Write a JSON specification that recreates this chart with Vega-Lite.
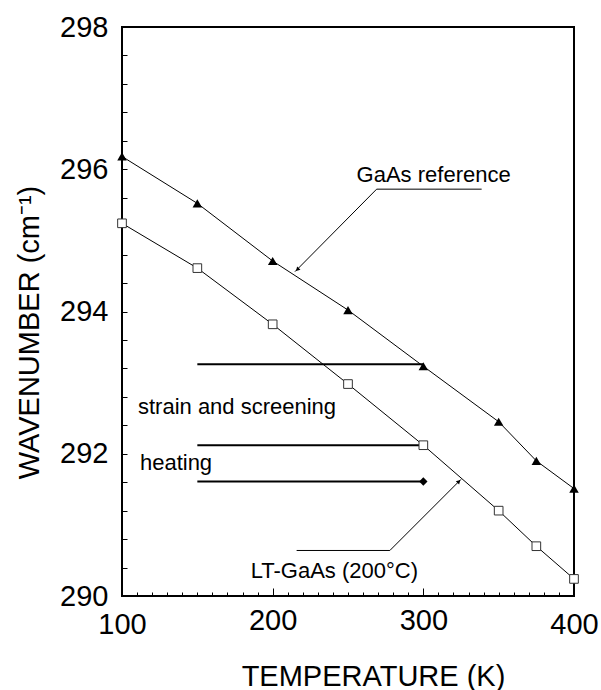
{
  "$schema": "https://vega.github.io/schema/vega-lite/v6.json",
  "autosize": {"type": "none"},
  "padding": {"left": 122, "top": 27, "right": 27, "bottom": 94},
  "width": 452,
  "height": 569,
  "background": "white",
  "config": {
    "view": {"stroke": "black", "strokeWidth": 2},
    "font": "Liberation Sans",
    "text": {"font": "Liberation Sans"}
  },
  "datasets": {
    "series": [
      {"series": "GaAs reference", "T": 100, "w": 296.18},
      {"series": "GaAs reference", "T": 150, "w": 295.52},
      {"series": "GaAs reference", "T": 200, "w": 294.71},
      {"series": "GaAs reference", "T": 250, "w": 294.02},
      {"series": "GaAs reference", "T": 300, "w": 293.23},
      {"series": "GaAs reference", "T": 350, "w": 292.45},
      {"series": "GaAs reference", "T": 375, "w": 291.90},
      {"series": "GaAs reference", "T": 400, "w": 291.51},
      {"series": "LT-GaAs", "T": 100, "w": 295.24},
      {"series": "LT-GaAs", "T": 150, "w": 294.61},
      {"series": "LT-GaAs", "T": 200, "w": 293.82},
      {"series": "LT-GaAs", "T": 250, "w": 292.98},
      {"series": "LT-GaAs", "T": 300, "w": 292.12},
      {"series": "LT-GaAs", "T": 350, "w": 291.20},
      {"series": "LT-GaAs", "T": 375, "w": 290.70},
      {"series": "LT-GaAs", "T": 400, "w": 290.24}
    ],
    "hlines": [
      {"T1": 150, "T2": 300, "w": 293.26},
      {"T1": 150, "T2": 300, "w": 292.12},
      {"T1": 150, "T2": 300, "w": 291.61}
    ],
    "diamond": [{"T": 300, "w": 291.61}],
    "leaders": [
      {"g": "gaas", "o": 1, "T": 338.7, "w": 295.72},
      {"g": "gaas", "o": 2, "T": 269.0, "w": 295.72},
      {"g": "gaas", "o": 3, "T": 214.8, "w": 294.56},
      {"g": "lt", "o": 1, "T": 215.9, "w": 290.64},
      {"g": "lt", "o": 2, "T": 277.8, "w": 290.64},
      {"g": "lt", "o": 3, "T": 325.0, "w": 291.64}
    ],
    "heads": [
      {"g": "gaas", "T": 216.4, "w": 294.59},
      {"g": "lt", "T": 323.6, "w": 291.61}
    ],
    "labels": [
      {"label": "GaAs reference", "T": 255.7, "w": 295.82},
      {"label": "strain and screening", "T": 110.6, "w": 292.557},
      {"label": "heating", "T": 111.9, "w": 291.77},
      {"label": "LT-GaAs (200°C)", "T": 185.4, "w": 290.26}
    ]
  },
  "encoding": {
    "x": {
      "field": "T", "type": "quantitative",
      "scale": {"domain": [100, 400], "nice": false, "zero": false},
      "axis": {
        "title": "TEMPERATURE (K)",
        "values": [100,110,120,130,140,150,160,170,180,190,200,210,220,230,240,250,260,270,280,290,300,310,320,330,340,350,360,370,380,390,400],
        "labelExpr": "datum.value % 100 === 0 ? format(datum.value, 'd') : ''",
        "domain": false,
        "grid": false,
        "tickColor": "black",
        "tickWidth": 1,
        "tickSize": {"condition": {"test": "datum.value === 200 || datum.value === 300", "value": -8}, "value": -4},
        "labelPadding": 18,
        "labelFlush": false,
        "labelOverlap": false,
        "labelFont": "Liberation Sans",
        "labelFontSize": 29,
        "labelColor": "black",
        "titleFont": "Liberation Sans",
        "titleFontSize": 29,
        "titleFontWeight": "normal",
        "titleColor": "black",
        "titleX": 251,
        "titleY": 80,
        "titleBaseline": "middle",
        "titleAlign": "center"
      }
    },
    "y": {
      "field": "w", "type": "quantitative",
      "scale": {"domain": [290, 298], "nice": false, "zero": false},
      "axis": {
        "title": "WAVENUMBER (cm⁻¹)",
        "values": [290,290.4,290.8,291.2,291.6,292,292.4,292.8,293.2,293.6,294,294.4,294.8,295.2,295.6,296,296.4,296.8,297.2,297.6,298],
        "labelExpr": "abs(datum.value - round(datum.value / 2) * 2) < 0.01 ? format(datum.value, 'd') : ''",
        "domain": false,
        "grid": false,
        "tickColor": "black",
        "tickWidth": 1,
        "tickSize": -5,
        "labelPadding": 19,
        "labelFlush": false,
        "labelOverlap": false,
        "labelFont": "Liberation Sans",
        "labelFontSize": 29,
        "labelColor": "black",
        "titleFont": "Liberation Sans",
        "titleFontSize": 29,
        "titleFontWeight": "normal",
        "titleColor": "black",
        "titleAngle": 270,
        "titleX": -93,
        "titleY": 305,
        "titleBaseline": "middle",
        "titleAlign": "center"
      }
    }
  },
  "layer": [
    {
      "data": {"name": "series"},
      "mark": {"type": "line", "color": "black", "strokeWidth": 1},
      "encoding": {"detail": {"field": "series"}}
    },
    {
      "data": {"name": "hlines"},
      "mark": {"type": "rule", "color": "black", "strokeWidth": 2},
      "encoding": {"x": {"field": "T1", "type": "quantitative"}, "x2": {"field": "T2"}}
    },
    {
      "data": {"name": "series"},
      "transform": [{"filter": "datum.series === 'GaAs reference'"}],
      "mark": {"type": "point", "shape": "triangle-up", "filled": true, "color": "black", "size": 90, "opacity": 1}
    },
    {
      "data": {"name": "series"},
      "transform": [{"filter": "datum.series === 'LT-GaAs'"}],
      "mark": {"type": "point", "shape": "square", "filled": false, "fill": "white", "fillOpacity": 1, "stroke": "#333333", "strokeWidth": 1, "size": 75, "opacity": 1}
    },
    {
      "data": {"name": "diamond"},
      "mark": {"type": "point", "shape": "diamond", "filled": true, "color": "black", "size": 70, "opacity": 1}
    },
    {
      "data": {"name": "leaders"},
      "mark": {"type": "line", "color": "black", "strokeWidth": 1},
      "encoding": {"detail": {"field": "g"}, "order": {"field": "o", "type": "quantitative"}}
    },
    {
      "data": {"name": "heads"},
      "transform": [{"filter": "datum.g === 'gaas'"}],
      "mark": {"type": "point", "shape": "triangle-up", "filled": true, "color": "black", "size": 22, "angle": 225, "opacity": 1}
    },
    {
      "data": {"name": "heads"},
      "transform": [{"filter": "datum.g === 'lt'"}],
      "mark": {"type": "point", "shape": "triangle-up", "filled": true, "color": "black", "size": 22, "angle": 45, "opacity": 1}
    },
    {
      "data": {"name": "labels"},
      "mark": {"type": "text", "align": "left", "baseline": "alphabetic", "fontSize": 22, "font": "Liberation Sans", "color": "black"},
      "encoding": {"text": {"field": "label"}}
    }
  ]
}
